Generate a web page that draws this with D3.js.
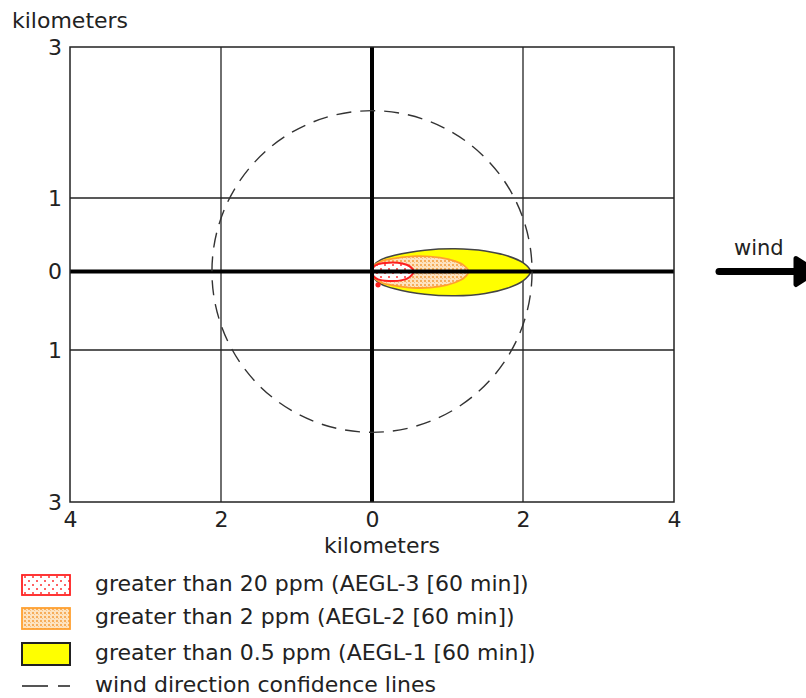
<!DOCTYPE html>
<html>
<head>
<meta charset="utf-8">
<script src="https://cdn.jsdelivr.net/npm/d3@7"></script>
<style>
  html, body { margin: 0; padding: 0; background: #fff; }
  svg { display: block; font-family: "DejaVu Sans", Verdana, sans-serif; }
</style>
</head>
<body>
<svg id="chart" width="806" height="698"></svg>
<script>
// ---- data (kilometers) ----
const xTicks = [-4, -2, 0, 2, 4];
const xTickLabels = ["4", "2", "0", "2", "4"];
const yTicks = [3, 1, 0, -1, -3];
const yTickLabels = ["3", "1", "0", "1", "3"];
const xGrid = [-2, 0, 2];
const yGrid = [1, 0, -1];
const confidenceRadiusKm = 2.12;

// threat zone footprints: [downwind km, half-width km]
const aegl1Profile = [[0, 0], [0.03, 0.09], [0.12, 0.16], [0.3, 0.22], [0.7, 0.29], [1.1, 0.31], [1.5, 0.28], [1.8, 0.21], [2.0, 0.12], [2.1, 0]];
const aegl2Profile = [[0, 0], [0.03, 0.08], [0.12, 0.14], [0.3, 0.18], [0.6, 0.21], [0.9, 0.19], [1.1, 0.14], [1.22, 0.08], [1.28, 0]];
const aegl3Profile = [[0, 0], [0.02, 0.06], [0.08, 0.1], [0.22, 0.12], [0.4, 0.11], [0.5, 0.07], [0.55, 0]];
const aegl3Speck = [[0.08, -0.17]];

const legendLabels = [
  "greater than 20 ppm (AEGL-3 [60 min])",
  "greater than 2 ppm (AEGL-2 [60 min])",
  "greater than 0.5 ppm (AEGL-1 [60 min])",
  "wind direction confidence lines"
];
const axisTitle = "kilometers";
const windLabel = "wind";

// ---- drawing ----
const svg = d3.select("#chart");
const x = d3.scaleLinear().domain([-4, 4]).range([70, 674]);
const y = d3.scaleLinear().domain([-3, -1, 0, 1, 3]).range([502, 350, 271.5, 198, 47]);
const textColor = "#222";
const fs = 22;

// patterns
const defs = svg.append("defs");
const pRed = defs.append("pattern").attr("id", "pRed").attr("patternUnits", "userSpaceOnUse")
  .attr("width", 8).attr("height", 8);
pRed.append("rect").attr("width", 8).attr("height", 8).attr("fill", "#fff");
pRed.append("circle").attr("cx", 1).attr("cy", 1).attr("r", 1).attr("fill", "#ff3030");
pRed.append("circle").attr("cx", 5).attr("cy", 5).attr("r", 1).attr("fill", "#ff3030");
const pOr = defs.append("pattern").attr("id", "pOr").attr("patternUnits", "userSpaceOnUse")
  .attr("width", 4).attr("height", 4);
pOr.append("rect").attr("width", 4).attr("height", 4).attr("fill", "#fde3c0");
pOr.append("rect").attr("x", 0).attr("y", 0).attr("width", 2).attr("height", 2).attr("fill", "#f6ad5a");
pOr.append("rect").attr("x", 2).attr("y", 2).attr("width", 1).attr("height", 1).attr("fill", "#f8c080");

// grid
const g = svg.append("g");
g.selectAll(".gx").data(xGrid.filter(d => d !== 0)).join("line")
  .attr("x1", d => x(d)).attr("x2", d => x(d)).attr("y1", y(3)).attr("y2", y(-3))
  .attr("stroke", "#222").attr("stroke-width", 1.3);
g.selectAll(".gy").data(yGrid.filter(d => d !== 0)).join("line")
  .attr("x1", x(-4)).attr("x2", x(4)).attr("y1", d => y(d)).attr("y2", d => y(d))
  .attr("stroke", "#222").attr("stroke-width", 1.3);

// zones
function zonePath(profile) {
  const top = profile.map(([d, w]) => [x(d), y(w)]);
  const bottom = profile.slice(1, -1).reverse().map(([d, w]) => [x(d), y(-w)]);
  return d3.line().curve(d3.curveCatmullRomClosed.alpha(0.5))(top.concat(bottom));
}
g.append("path").attr("d", zonePath(aegl1Profile)).attr("fill", "#ffff00")
  .attr("stroke", "#444").attr("stroke-width", 1.5);
g.append("path").attr("d", zonePath(aegl2Profile)).attr("fill", "url(#pOr)")
  .attr("stroke", "#ffa030").attr("stroke-width", 1.8);
g.append("path").attr("d", zonePath(aegl3Profile)).attr("fill", "url(#pRed)")
  .attr("stroke", "#ff2020").attr("stroke-width", 2);
g.selectAll(".speck").data(aegl3Speck).join("circle")
  .attr("cx", d => x(d[0])).attr("cy", d => y(d[1])).attr("r", 2.6).attr("fill", "#ff2020");

// main axes (thick zero lines)
g.append("line").attr("x1", x(-4)).attr("x2", x(4)).attr("y1", y(0)).attr("y2", y(0))
  .attr("stroke", "#000").attr("stroke-width", 4);
g.append("line").attr("x1", x(0)).attr("x2", x(0)).attr("y1", y(3)).attr("y2", y(-3))
  .attr("stroke", "#000").attr("stroke-width", 4);

// confidence circle
g.append("ellipse")
  .attr("cx", x(0)).attr("cy", y(0))
  .attr("rx", x(confidenceRadiusKm) - x(0))
  .attr("ry", (y(-confidenceRadiusKm) - y(confidenceRadiusKm)) / 2)
  .attr("fill", "none").attr("stroke", "#333").attr("stroke-width", 1.4)
  .attr("stroke-dasharray", "15 9");

// frame
g.append("rect").attr("x", x(-4)).attr("y", y(3)).attr("width", x(4) - x(-4)).attr("height", y(-3) - y(3))
  .attr("fill", "none").attr("stroke", "#222").attr("stroke-width", 1.5);

// axes via d3
const xAxis = d3.axisBottom(x).tickValues(xTicks).tickSize(0).tickPadding(9)
  .tickFormat((d, i) => xTickLabels[i]);
const xa = svg.append("g").attr("transform", `translate(0,${y(-3)})`).call(xAxis);
xa.select(".domain").remove();
xa.selectAll("text").attr("font-size", fs).attr("fill", textColor).attr("font-family", "DejaVu Sans, Verdana, sans-serif");

const yAxis = d3.axisLeft(y).tickValues(yTicks).tickSize(0).tickPadding(8)
  .tickFormat((d, i) => yTickLabels[i]);
const ya = svg.append("g").attr("transform", `translate(${x(-4)},0)`).call(yAxis);
ya.select(".domain").remove();
ya.selectAll("text").attr("font-size", fs).attr("fill", textColor).attr("font-family", "DejaVu Sans, Verdana, sans-serif");

// axis titles
svg.append("text").attr("x", 12).attr("y", 28).attr("font-size", fs).attr("fill", textColor).text(axisTitle);
svg.append("text").attr("x", 382).attr("y", 553).attr("text-anchor", "middle")
  .attr("font-size", fs).attr("fill", textColor).text(axisTitle);

// wind arrow
svg.append("text").attr("x", 734).attr("y", 255).attr("font-size", 21).attr("fill", textColor).text(windLabel);
svg.append("line").attr("x1", 719).attr("x2", 796).attr("y1", y(0)).attr("y2", y(0))
  .attr("stroke", "#000").attr("stroke-width", 7).attr("stroke-linecap", "round");
svg.append("path").attr("d", `M796,${y(0) - 13} L816,${y(0)} L796,${y(0) + 13} Z`)
  .attr("fill", "#000").attr("stroke", "#000").attr("stroke-width", 5).attr("stroke-linejoin", "round");

// legend
const legendY = [585, 618, 654, 686];
const lg = svg.append("g");
lg.append("rect").attr("x", 22).attr("y", legendY[0] - 10).attr("width", 48).attr("height", 20)
  .attr("fill", "url(#pRed)").attr("stroke", "#ff2020").attr("stroke-width", 1.8);
lg.append("rect").attr("x", 22).attr("y", legendY[1] - 10).attr("width", 48).attr("height", 21)
  .attr("fill", "url(#pOr)").attr("stroke", "#ffa030").attr("stroke-width", 1.8);
lg.append("rect").attr("x", 22).attr("y", legendY[2] - 11).attr("width", 48).attr("height", 22)
  .attr("fill", "#ffff00").attr("stroke", "#222").attr("stroke-width", 2);
lg.append("line").attr("x1", 22).attr("x2", 70).attr("y1", legendY[3]).attr("y2", legendY[3])
  .attr("stroke", "#555").attr("stroke-width", 2).attr("stroke-dasharray", "26 10 12 100");
lg.selectAll(".lt").data(legendLabels).join("text")
  .attr("x", 95).attr("y", (d, i) => legendY[i] + 6)
  .attr("font-size", fs).attr("fill", textColor).text(d => d);
</script>
</body>
</html>
